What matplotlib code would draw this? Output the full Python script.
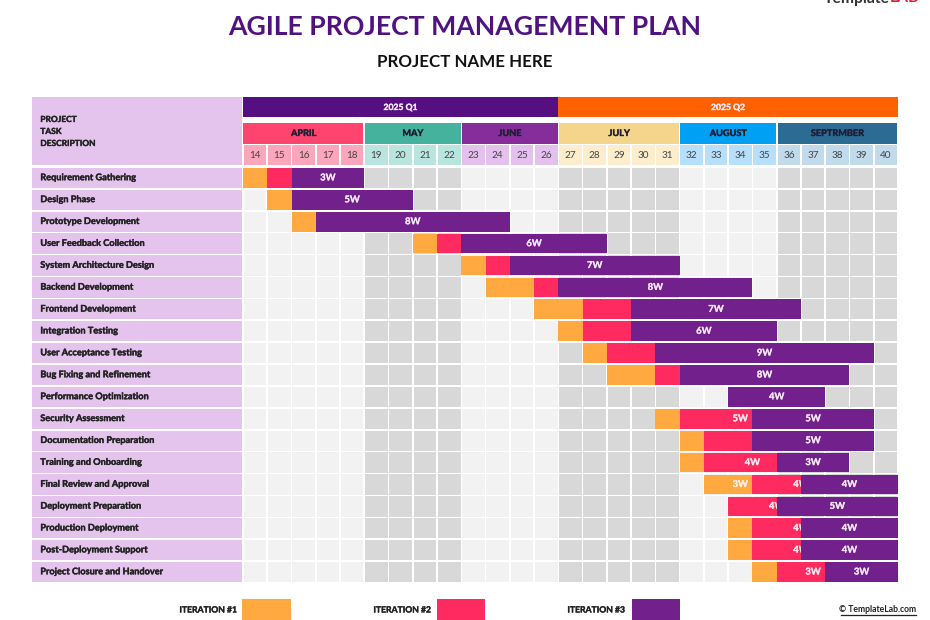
import matplotlib
matplotlib.use("Agg")
import matplotlib.pyplot as plt
import matplotlib.patheffects as pe
from matplotlib.lines import Line2D
from matplotlib.patches import Rectangle

plt.rcParams['font.family'] = ['Lato', 'DejaVu Sans']

tasks = ["Requirement Gathering", "Design Phase", "Prototype Development", "User Feedback Collection",
         "System Architecture Design", "Backend Development", "Frontend Development", "Integration Testing",
         "User Acceptance Testing", "Bug Fixing and Refinement", "Performance Optimization", "Security Assessment",
         "Documentation Preparation", "Training and Onboarding", "Final Review and Approval",
         "Deployment Preparation", "Production Deployment", "Post-Deployment Support",
         "Project Closure and Handover"]
start_week = [14, 15, 16, 21, 23, 24, 26, 27, 28, 29, 34, 31, 32, 32, 33, 34, 34, 34, 35]
iter1_len = [1, 1, 1, 1, 1, 2, 2, 1, 1, 2, 0, 1, 1, 1, 2, 0, 1, 1, 1]
iter2_len = [1, 0, 0, 1, 1, 1, 2, 2, 2, 1, 0, 3, 2, 3, 2, 2, 2, 2, 2]
iter3_len = [3, 5, 8, 6, 7, 8, 7, 6, 9, 7, 4, 5, 5, 3, 4, 5, 4, 4, 3]
# Written week labels: they may differ from the visible length of the bar
iter1_lab = [0, 0, 0, 0, 0, 0, 0, 0, 0, 0, 0, 0, 0, 0, 3, 0, 0, 0, 0]
iter2_lab = [0, 0, 0, 0, 0, 0, 0, 0, 0, 0, 0, 5, 0, 4, 4, 4, 4, 4, 3]
iter3_lab = [3, 5, 8, 6, 7, 8, 7, 6, 9, 8, 4, 5, 5, 3, 4, 5, 4, 4, 3]

quarters = ["2025 Q1", "2025 Q2"]
quarter_len = [13, 14]
quarter_col = ["#560f80", "#ff6000"]
months = ["APRIL", "MAY", "JUNE", "JULY", "AUGUST", "SEPTRMBER"]
month_len = [5, 4, 4, 5, 4, 5]
month_col = ["#ff4470", "#45b29d", "#872c9b", "#f5d58c", "#00a0f5", "#2c6b94"]
week_col = ["#fba6bb", "#b9e5df", "#e3c1ec", "#fcedcc", "#b5dffb", "#c2dbec"]
cell_col = ["#f2f2f2", "#d8d8d8", "#f2f2f2", "#d8d8d8", "#f2f2f2", "#d8d8d8"]
first_week = 14
last_week = 40
iter_names = ["ITERATION #1", "ITERATION #2", "ITERATION #3"]
ORANGE, PINK, PURPLE = "#ffa940", "#ff2a5f", "#72208b"
PANEL = "#e4c3ed"

W, H = 930, 620
fig = plt.figure(figsize=(W / 100, H / 100), dpi=100)
X0, X1, Y0, Y1 = 243, 898, 167, 583
ax = fig.add_axes([X0 / W, 1 - Y1 / H, (X1 - X0) / W, (Y1 - Y0) / H])
n_w = last_week - first_week + 1
n_r = len(tasks)
ax.set_xlim(first_week, last_week + 1)
ax.set_ylim(n_r, 0)
ax.axis("off")
cw = (X1 - X0) / n_w
rh = (Y1 - Y0) / n_r
px = lambda v: first_week + (v - X0) / cw
py = lambda v: (v - Y0) / rh


def box(x0, x1, y0, y1, c, z=1):
    ax.add_patch(Rectangle((x0, y0), x1 - x0, y1 - y0, fc=c, ec="none", zorder=z, clip_on=False))


def label(x, y, s, size, color="#222222", ha="center", z=6, weight="bold", stroke=0.25):
    t = ax.text(x, y, s, fontsize=size, color=color, ha=ha, va="center", fontweight=weight, zorder=z, clip_on=False)
    if stroke:
        t.set_path_effects([pe.withStroke(linewidth=stroke, foreground=color)])
    return t


gx = 1.6 / cw
gy = 1.6 / rh
# Week grid
wk = first_week
for i, m in enumerate(months):
    xm = wk
    for k in range(month_len[i]):
        for r in range(n_r):
            box(wk + gx / 2, wk + 1 - gx / 2, r + gy / 2, r + 1 - gy / 2, cell_col[i])
        box(wk + gx / 2, wk + 1 - gx / 2, py(145), py(165.3), week_col[i])
        label(wk + .5, py(155.5), str(wk), 7.2, "#444444", weight="normal", stroke=0)
        wk += 1
    box(xm + (gx / 2 if i else 0), wk - gx / 2, py(123), py(144), month_col[i])
    label((xm + wk) / 2, py(133.5), m, 6.6, "#1f1f33")

# Quarters
q = first_week
for i, s in enumerate(quarters):
    box(q, q + quarter_len[i] - gx / 2 if i == 0 else q + quarter_len[i], py(97), py(117), quarter_col[i])
    label(q + quarter_len[i] / 2, py(107.5), s, 6.2, "#f3e6f5")
    q += quarter_len[i]

# Left panel
lx0, lx1 = px(32), px(241.5)
tx = px(40.3)
box(lx0, lx1, py(97), py(165.3), PANEL)
for yy, s in zip([119.5, 131.5, 143.5], ["PROJECT", "TASK", "DESCRIPTION"]):
    label(tx, py(yy), s, 6.05, ha="left")
for r, t in enumerate(tasks):
    box(lx0, lx1, r + gy / 2, r + 1 - gy / 2, PANEL)
    label(tx, r + .49, t, 6.6, ha="left")

# Bars
for r in range(n_r):
    s = start_week[r]
    y0, y1 = r + gy * .7, r + 1 - gy * .7
    a = s + iter1_len[r]
    b = a + iter2_len[r]
    c = b + iter3_len[r]
    if iter1_len[r]:
        box(s, a, y0, y1, ORANGE, 3)
    if iter2_len[r]:
        box(a, b, y0, y1, PINK, 3)
    box(b, c, y0, y1, PURPLE, 5)
    if iter1_lab[r]:
        label(s + iter1_lab[r] / 2, r + .5, f"{iter1_lab[r]}W", 6.8, "#fbeee6", z=4, stroke=0.2)
    if iter2_lab[r]:
        label(a + iter2_lab[r] / 2, r + .5, f"{iter2_lab[r]}W", 6.8, "#fbe6ee", z=4, stroke=0.2)
    label((b + c) / 2, r + .5, f"{iter3_lab[r]}W", 6.8, "#f3e6f5", z=6, stroke=0.2)

# Legend
for name, col, x_t, x_a, x_b in zip(iter_names, [ORANGE, PINK, PURPLE], [237, 431, 625], [242, 437, 632], [291, 485, 680]):
    label(px(x_t), py(610), name, 6.2, ha="right")
    box(px(x_a), px(x_b), py(599), py(621), col)

fig.text(465 / W, 1 - 27 / H, "AGILE PROJECT MANAGEMENT PLAN", fontsize=19.2, fontweight="bold",
         color="#4f1280", ha="center", va="center")
fig.text(465 / W, 1 - 62 / H, "PROJECT NAME HERE", fontsize=12.2, fontweight="bold", color="#111111",
         ha="center", va="center")
fig.text(916 / W, 1 - 609.5 / H, "© TemplateLab.com", fontsize=6.2, fontweight="bold", color="#222222",
         ha="right", va="center")
fig.add_artist(Line2D([841 / W, 916 / W], [1 - 614.5 / H, 1 - 614.5 / H], color="#222222", lw=0.9,
                      transform=fig.transFigure, zorder=10))
# Cropped logo at the top edge
fig.text(890 / W, 1 - 2.5 / H, "Template", fontsize=11.3, fontweight="bold", color="#333333", ha="right", va="baseline")
fig.text(890 / W, 1 - 2.5 / H, "LAB", fontsize=11.3, fontweight="bold", color="#e0203c", ha="left", va="baseline")

fig.savefig("out.png", dpi=100, facecolor="white")
